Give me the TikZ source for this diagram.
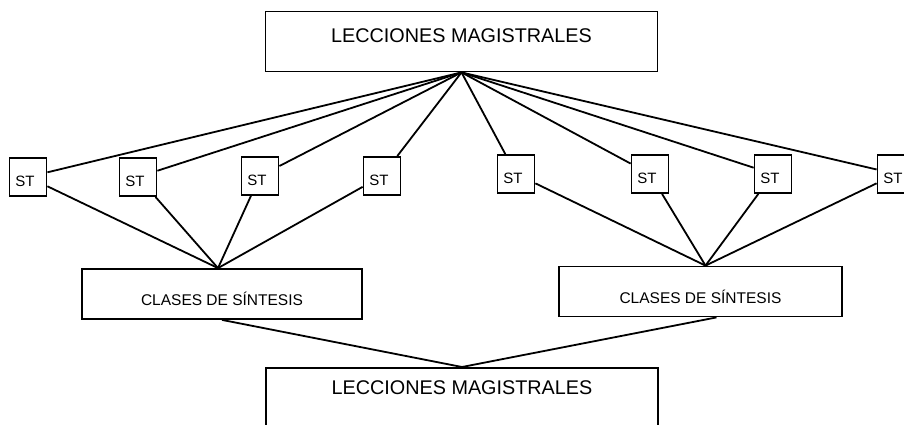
\documentclass[tikz,border=0pt]{standalone}
\usepackage{fontspec}
\setmainfont{Liberation Sans}
\usepackage{tikz}

\begin{document}
\begin{tikzpicture}[x=1pt, y=-1pt, line width=1.8pt,
  lecbox/.style={draw, minimum width=392pt, inner sep=0pt, font=\fontsize{19.8}{20}\selectfont},
  sintbox/.style={draw, minimum height=50pt, inner sep=0pt, text height=23pt, text depth=0pt, font=\fontsize{15.5}{16}\selectfont},
  stbox/.style={draw, minimum width=37pt, minimum height=38pt, inner sep=0pt, text height=18pt, text depth=0pt, font=\fontsize{15}{15}\selectfont, execute at end node=\hspace*{6pt}}]

\useasboundingbox (0,0) rectangle (904,425);

% draw top box
\node [lecbox, minimum height=60pt, text height=14pt, text depth=12pt] (lec1) at (461.5,41.5) {LECCIONES MAGISTRALES};

% draw ST boxes
\node [stbox] (st1) at (28,177) {ST};
\node [stbox] (st2) at (138,177) {ST};
\node [stbox] (st3) at (260,176) {ST};
\node [stbox] (st4) at (382,176) {ST};
\node [stbox] (st5) at (516,174) {ST};
\node [stbox] (st6) at (650,174) {ST};
\node [stbox] (st7) at (773,174) {ST};
\node [stbox] (st8) at (896,174) {ST};

% draw synthesis boxes
\node [sintbox, minimum width=280pt] (cl1) at (222,294) {CLASES DE SÍNTESIS};
\node [sintbox, minimum width=283pt] (cl2) at (700.5,291.5) {CLASES DE SÍNTESIS};

% draw bottom box
\node [lecbox, anchor=north, minimum height=75pt, text height=14pt, text depth=35pt] (lec2) at (462,367) {LECCIONES MAGISTRALES};

% connect top box with ST boxes
\foreach \i in {1,...,8}
  \draw (lec1.south) -- (st\i);

% connect ST boxes with synthesis boxes
\foreach \i in {1,...,4}
  \draw (st\i) -- ([xshift=-4pt]cl1.north);
\foreach \i in {5,...,8}
  \draw (st\i) -- ([xshift=5pt]cl2.north);

% connect synthesis boxes with bottom box
\draw (cl1.south) -- (lec2.north);
\draw ([xshift=16pt]cl2.south) -- (lec2.north);

\end{tikzpicture}
\end{document}
